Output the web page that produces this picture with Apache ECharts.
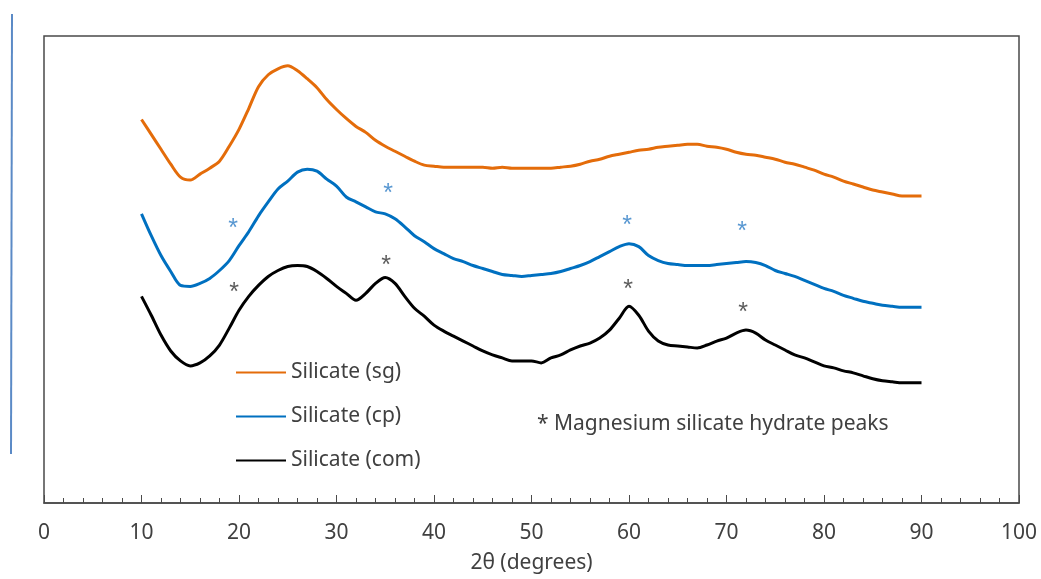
<!DOCTYPE html>
<html lang="en">
<head>
    <meta charset="UTF-8">
    <title>XRD - Silicate</title>
    <script src="https://cdn.jsdelivr.net/npm/echarts@6/dist/echarts.min.js"></script>
    <style>
        body { margin: 0; background: #fff; }
    </style>
</head>
<body>
    <div id="chart" style="width:1041px;height:579px;"></div>
    <script>
        // 2theta positions (degrees)
        var twoTheta = [];
        for (var t = 10; t <= 90; t++) twoTheta.push(t);

        // intensities (arbitrary units)
        var sgValues = [386, 371, 356, 341, 328, 325, 331, 337, 344, 359,
            376, 397, 419, 431, 437, 440, 435, 427, 418, 406,
            396, 387, 379, 373, 365, 359, 354, 349, 344, 340,
            339, 338, 338, 338, 338, 338, 337, 338, 337, 337,
            337, 337, 337, 338, 339, 341, 344, 346, 349, 351,
            353, 355, 356, 358, 359, 360, 361, 361, 359, 358,
            356, 353, 351, 350, 348, 346, 343, 341, 338, 335,
            331, 328, 324, 321, 318, 315, 313, 311, 309, 309, 309];
        var cpValues = [291, 269, 249, 233, 219, 218, 221, 226, 234, 244,
            259, 273, 289, 303, 316, 324, 333, 336, 334, 326,
            319, 308, 303, 298, 293, 291, 286, 278, 269, 263,
            256, 251, 246, 243, 239, 236, 233, 230, 229, 228,
            229, 230, 231, 233, 236, 239, 243, 248, 253, 258,
            261, 258, 249, 244, 241, 240, 239, 239, 239, 240,
            241, 242, 243, 242, 239, 234, 231, 228, 224, 220,
            216, 213, 209, 206, 203, 201, 199, 198, 197, 197, 197];
        var comValues = [208, 189, 169, 153, 143, 138, 141, 148, 159, 176,
            194, 208, 219, 228, 234, 238, 239, 238, 233, 226,
            218, 211, 204, 211, 221, 227, 221, 208, 196, 188,
            179, 173, 168, 163, 158, 153, 149, 146, 143, 143,
            143, 141, 146, 149, 154, 158, 161, 166, 174, 186,
            198, 189, 173, 163, 159, 158, 157, 156, 159, 163,
            166, 171, 174, 171, 164, 159, 154, 149, 146, 142,
            138, 136, 133, 131, 128, 125, 123, 122, 121, 121, 121];

        // Magnesium silicate hydrate peak marks (*)
        var cpPeakX = [19.4, 35.3, 59.8, 71.6];
        var cpPeakY = [276, 311, 279, 273];
        var comPeakX = [19.5, 35.1, 59.9, 71.7];
        var comPeakY = [211, 238, 214, 191];

        var seriesNames = ['Silicate (sg)', 'Silicate (cp)', 'Silicate (com)'];
        var xTicks = [0, 10, 20, 30, 40, 50, 60, 70, 80, 90, 100];

        function pairs(xs, ys) {
            var out = [];
            for (var i = 0; i < xs.length; i++) out.push([xs[i], ys[i]]);
            return out;
        }

        function lineSeries(name, values, color) {
            return {
                name: name,
                type: 'line',
                data: pairs(twoTheta, values),
                symbol: 'none',
                smooth: 0.3,
                lineStyle: { color: color, width: 3 },
                itemStyle: { color: color },
                z: 3
            };
        }

        function starSeries(xs, ys, color) {
            return {
                type: 'scatter',
                data: pairs(xs, ys),
                symbolSize: 0,
                silent: true,
                label: {
                    show: true,
                    position: 'inside',
                    formatter: '*',
                    color: color,
                    fontSize: 25,
                    fontFamily: 'Liberation Sans'
                }
            };
        }

        var chart = echarts.init(document.getElementById('chart'));

        var option = {
            backgroundColor: '#fff',
            animation: false,
            grid: {
                left: 44, right: 22, top: 36, bottom: 73,
                show: true, borderColor: '#4a4a4a', borderWidth: 1.5
            },
            legend: {
                data: seriesNames,
                orient: 'vertical',
                left: 231, top: 355,
                icon: 'rect',
                itemWidth: 50, itemHeight: 2,
                itemGap: 19,
                textStyle: { fontSize: 21, color: '#404040', fontFamily: 'Noto Sans', lineHeight: 25 }
            },
            graphic: [
                {
                    type: 'line',
                    shape: { x1: 12, y1: 14, x2: 11, y2: 454 },
                    style: { stroke: '#5b8ac6', lineWidth: 2 }
                },
                {
                    type: 'text',
                    left: 537, top: 414,
                    style: {
                        text: '* Magnesium silicate hydrate peaks',
                        fontSize: 21, fill: '#404040', fontFamily: 'Noto Sans'
                    }
                }
            ],
            xAxis: {
                type: 'value',
                min: 0, max: 100, interval: 10,
                name: '2\u03b8 (degrees)',
                nameLocation: 'middle',
                nameGap: 50,
                nameTextStyle: { fontSize: 21, color: '#404040', fontFamily: 'Noto Sans' },
                axisLine: { lineStyle: { color: '#4a4a4a', width: 1.5 } },
                axisTick: { inside: true, length: 8, lineStyle: { color: '#4a4a4a' } },
                minorTick: { show: true, splitNumber: 5, length: 5, lineStyle: { color: '#4a4a4a' } },
                axisLabel: {
                    margin: 20, fontSize: 21, color: '#404040', fontFamily: 'Noto Sans',
                    formatter: function (v) { return xTicks.indexOf(v) >= 0 ? String(v) : ''; }
                },
                splitLine: { show: false }
            },
            yAxis: {
                type: 'value',
                min: 0, max: 470,
                show: false,
                splitLine: { show: false }
            },
            series: [
                lineSeries(seriesNames[0], sgValues, '#e46c0a'),
                lineSeries(seriesNames[1], cpValues, '#0070c0'),
                lineSeries(seriesNames[2], comValues, '#000000'),
                starSeries(cpPeakX, cpPeakY, '#2e7dc6'),
                starSeries(comPeakX, comPeakY, '#333333')
            ]
        };

        chart.setOption(option);
    </script>
</body>
</html>
